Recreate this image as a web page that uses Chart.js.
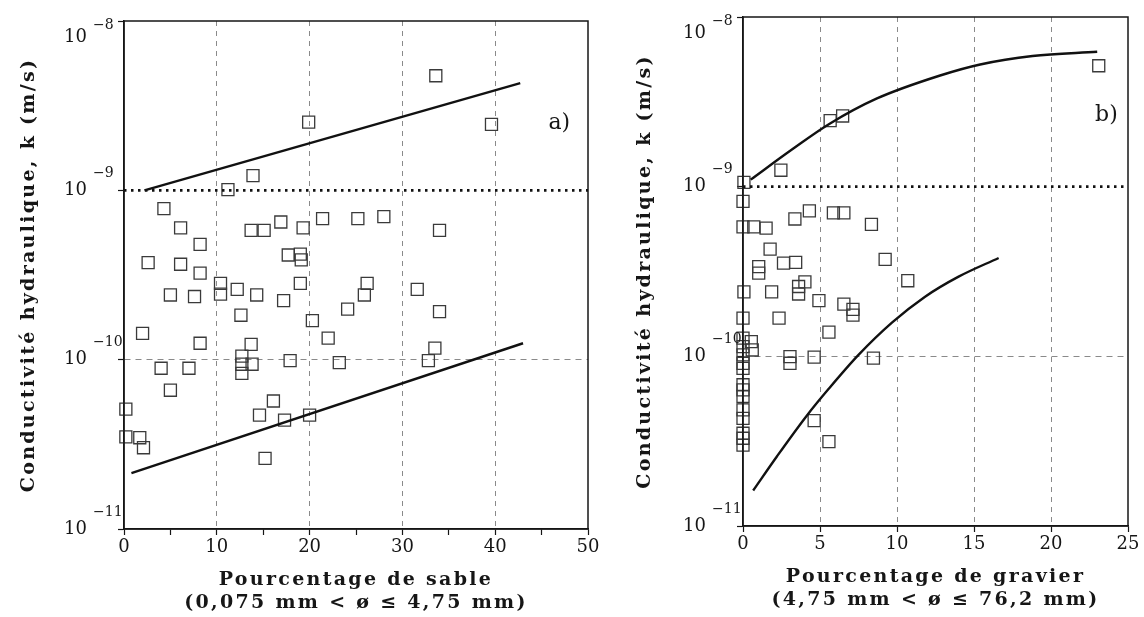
<!DOCTYPE html>
<html>
<head>
<meta charset="utf-8">
<script src="https://cdn.jsdelivr.net/npm/chart.js@4.4.1/dist/chart.umd.min.js"></script>
<style>
  html, body { margin: 0; padding: 0; background: #fff; }
  #wrap { position: relative; width: 1144px; height: 617px; overflow: hidden; }
  canvas { position: absolute; top: 0; }
</style>
</head>
<body>
<div id="wrap">
  <canvas id="sandChart" width="610" height="617" style="left:0"></canvas>
  <canvas id="gravelChart" width="534" height="617" style="left:610px"></canvas>
</div>
<script>
// shared y axis: hydraulic conductivity, decades only
const decadeTicks = [1e-11, 1e-10, 1e-9, 1e-8];
const decadeExponents = ["\u221211", "\u221210", "\u22129", "\u22128"];
const thresholdK = 1e-9;

// a) sand
const sandTicks = [0, 10, 20, 30, 40, 50];
const sandX = [33.6, 19.9, 39.6, 13.9, 11.2, 4.3, 6.1, 13.7, 15.1, 16.9, 19.3, 21.4, 25.2, 28.0, 34.0,
  8.2, 2.6, 6.1, 8.2, 17.7, 19.0, 19.1, 10.4, 10.4, 12.2, 5.0, 7.6, 14.3, 17.2, 19.0, 26.2, 25.9,
  31.6, 24.1, 34.0, 12.6, 20.3, 2.0, 8.2, 13.7, 22.0, 33.5, 12.7, 12.7, 12.7, 13.8, 17.9, 23.2,
  32.8, 4.0, 7.0, 5.0, 0.2, 16.1, 14.6, 17.3, 20.0, 0.2, 1.7, 2.1, 15.2];
const sandK = [4.75e-9, 2.53e-9, 2.45e-9, 1.22e-9, 1.01e-9, 7.8e-10, 6.0e-10, 5.8e-10, 5.8e-10, 6.5e-10,
  6.0e-10, 6.8e-10, 6.8e-10, 7.0e-10, 5.8e-10, 4.8e-10, 3.74e-10, 3.66e-10, 3.24e-10, 4.15e-10, 4.2e-10,
  3.88e-10, 2.82e-10, 2.44e-10, 2.6e-10, 2.41e-10, 2.36e-10, 2.41e-10, 2.23e-10, 2.82e-10, 2.82e-10,
  2.41e-10, 2.6e-10, 1.99e-10, 1.92e-10, 1.83e-10, 1.7e-10, 1.43e-10, 1.25e-10, 1.23e-10, 1.34e-10,
  1.17e-10, 1.05e-10, 9.4e-11, 8.3e-11, 9.4e-11, 9.86e-11, 9.6e-11, 9.86e-11, 8.9e-11, 8.9e-11,
  6.6e-11, 5.1e-11, 5.7e-11, 4.7e-11, 4.4e-11, 4.7e-11, 3.5e-11, 3.46e-11, 3.02e-11, 2.61e-11];
const sandUpperX = [2.2, 42.7];
const sandUpperK = [1.0e-9, 4.3e-9];
const sandLowerX = [0.8, 43.0];
const sandLowerK = [2.14e-11, 1.25e-10];

// b) gravel
const gravelTicks = [0, 5, 10, 15, 20, 25];
const gravelX = [23.1, 5.66, 6.47, 2.46, 0.06, 0, 0, 0.7, 1.5, 3.37, 4.31, 5.87, 6.55, 8.34, 1.76,
  1.02, 1.02, 2.63, 3.42, 9.23, 10.7, 4.02, 3.61, 3.61, 0.06, 1.86, 4.93, 6.55, 7.14, 7.14, 0, 2.34,
  5.58, 0, 0.54, 0.6, 0, 0, 3.05, 3.05, 4.62, 8.47, 0, 0, 0, 0, 0, 0, 0, 0, 0, 0, 4.62, 5.58];
const gravelK = [5.16e-9, 2.45e-9, 2.61e-9, 1.25e-9, 1.06e-9, 8.2e-10, 5.8e-10, 5.8e-10, 5.7e-10,
  6.45e-10, 7.2e-10, 7.0e-10, 7.0e-10, 6.0e-10, 4.28e-10, 3.38e-10, 3.09e-10, 3.54e-10, 3.58e-10,
  3.73e-10, 2.79e-10, 2.75e-10, 2.58e-10, 2.33e-10, 2.4e-10, 2.4e-10, 2.13e-10, 2.03e-10, 1.89e-10,
  1.75e-10, 1.68e-10, 1.68e-10, 1.39e-10, 1.28e-10, 1.22e-10, 1.09e-10, 1.14e-10, 1.02e-10, 9.96e-11,
  9.1e-11, 9.9e-11, 9.75e-11, 9.1e-11, 8.5e-11, 6.8e-11, 6.34e-11, 5.8e-11, 4.83e-11, 4.31e-11,
  3.52e-11, 3.29e-11, 3.0e-11, 4.18e-11, 3.14e-11];
const gravelUpperX = [0.5, 3.2, 5.6, 8.7, 12.8, 15.4, 18.8, 23.0];
const gravelUpperK = [1.1e-9, 1.66e-9, 2.34e-9, 3.31e-9, 4.52e-9, 5.25e-9, 5.89e-9, 6.24e-9];
const gravelLowerX = [0.66, 2.2, 4.14, 5.58, 7.5, 9.67, 11.8, 14.0, 16.6];
const gravelLowerK = [1.62e-11, 2.57e-11, 4.47e-11, 6.46e-11, 1.02e-10, 1.58e-10, 2.24e-10, 2.95e-10, 3.8e-10];

const FONT = "'DejaVu Serif', 'Liberation Serif', serif";
const INK = "#161616";

function zip(xs, ys) {
  return xs.map((x, i) => ({ x: x, y: ys[i] }));
}

// draws the box, the 10^n tick labels and the panel letter
const decoPlugin = {
  id: "deco",
  beforeDraw(chart) {
    // wide tracking for the axis titles (drawn in the grid layer)
    chart.ctx.letterSpacing = "2.3px";
  },
  beforeDatasetsDraw(chart) {
    chart.ctx.letterSpacing = "0px";
  },
  afterDraw(chart, args, opts) {
    const ctx = chart.ctx;
    const area = chart.chartArea;
    const y = chart.scales.y;
    ctx.save();
    ctx.letterSpacing = "0px";
    ctx.strokeStyle = INK;
    ctx.lineWidth = 1.5;
    ctx.strokeRect(area.left, area.top, area.right - area.left, area.bottom - area.top);

    ctx.fillStyle = INK;
    ctx.textBaseline = "middle";
    decadeTicks.forEach((v, i) => {
      const py = y.getPixelForValue(v);
      const top = i === decadeTicks.length - 1;
      ctx.font = "18px " + FONT;
      ctx.textAlign = "right";
      ctx.fillText("10", area.left - 37, top ? py + 16 : py);
      ctx.font = "14px " + FONT;
      ctx.textAlign = "left";
      ctx.fillText(decadeExponents[i], area.left - 31, top ? py + 4 : py - 17);
    });

    ctx.font = "22px " + FONT;
    ctx.textAlign = "center";
    ctx.fillText(opts.text, chart.scales.x.getPixelForValue(opts.x), y.getPixelForValue(opts.y));
    ctx.restore();
  }
};

function makePanel(id, p) {
  const majors = p.ticks;
  const xMax = majors[majors.length - 1];
  const lineStyle = { borderColor: "#111", borderWidth: 2.4, pointRadius: 0, fill: false };

  new Chart(document.getElementById(id), {
    type: "scatter",
    data: {
      datasets: [
        Object.assign({ type: "line", data: zip([0, xMax], [thresholdK, thresholdK]),
          borderDash: [2.5, 4.5] }, lineStyle, { borderWidth: 2.6 }),
        Object.assign({ type: "line", data: zip(p.upperX, p.upperK), cubicInterpolationMode: "monotone" }, lineStyle),
        Object.assign({ type: "line", data: zip(p.lowerX, p.lowerK), cubicInterpolationMode: "monotone" }, lineStyle),
        {
          data: zip(p.xs, p.ks),
          pointStyle: "rect",
          pointRadius: 8.5,
          borderColor: "#3a3a3a",
          borderWidth: 1.3,
          backgroundColor: "rgba(0,0,0,0)",
          clip: false
        }
      ]
    },
    options: {
      responsive: false,
      animation: false,
      events: [],
      layout: { padding: { top: p.padTop, right: p.padRight, left: 0, bottom: 0 } },
      plugins: {
        legend: { display: false },
        tooltip: { enabled: false },
        deco: { text: p.label, x: p.labelX, y: p.labelY }
      },
      scales: {
        x: {
          type: "linear",
          min: 0,
          max: xMax,
          afterBuildTicks: (s) => { s.ticks = p.tickValues.map(v => ({ value: v })); },
          afterFit: (s) => { s.height = p.xAxisHeight; },
          ticks: {
            z: 1,
            padding: 2,
            color: INK,
            font: { family: FONT, size: 18 },
            maxRotation: 0,
            autoSkip: false,
            callback: (v) => majors.includes(v) ? String(v) : ""
          },
          grid: {
            color: (c) => (c.tick && majors.includes(c.tick.value) && c.tick.value > 0 && c.tick.value < xMax)
              ? "#8a8a8a" : "rgba(0,0,0,0)",
            lineWidth: 1,
            tickColor: INK,
            tickLength: 6,
            tickWidth: 1.2
          },
          border: { display: true, color: INK, width: 1.5, dash: [5, 5] },
          title: {
            display: true,
            text: p.xTitle,
            color: INK,
            font: { family: FONT, size: 19, weight: "bold", lineHeight: 1.22 },
            padding: { top: 0, bottom: p.xTitlePad }
          }
        },
        y: {
          type: "logarithmic",
          min: decadeTicks[0],
          max: decadeTicks[decadeTicks.length - 1],
          afterBuildTicks: (s) => { s.ticks = decadeTicks.map(v => ({ value: v, major: true })); },
          afterFit: (s) => { s.width = p.yAxisWidth; },
          ticks: { display: false },
          grid: {
            color: (c) => (c.tick && Math.abs(Math.log10(c.tick.value) + 10) < 1e-6) ? "#8a8a8a" : "rgba(0,0,0,0)",
            lineWidth: 1,
            tickColor: INK,
            tickLength: 6,
            tickWidth: 1.2
          },
          border: { display: true, color: INK, width: 1.5, dash: [6, 5] },
          title: {
            display: true,
            text: "Conductivit\u00e9 hydraulique, k (m/s)",
            color: INK,
            font: { family: FONT, size: 19, weight: "bold", lineHeight: 1.22 },
            padding: { top: p.yTitlePad, bottom: 0 }
          }
        }
      }
    },
    plugins: [decoPlugin]
  });
}

makePanel("sandChart", {
  ticks: sandTicks,
  tickValues: [0, 5, 10, 15, 20, 25, 30, 35, 40, 45, 50],
  xs: sandX, ks: sandK,
  upperX: sandUpperX, upperK: sandUpperK,
  lowerX: sandLowerX, lowerK: sandLowerK,
  xTitle: ["Pourcentage de sable", "(0,075 mm < \u00f8 \u2264 4,75 mm)"],
  label: "a)", labelX: 46.9, labelY: 2.5e-9,
  padTop: 21, padRight: 22, yAxisWidth: 124, xAxisHeight: 88,
  xTitlePad: 2, yTitlePad: 17
});

makePanel("gravelChart", {
  ticks: gravelTicks,
  tickValues: gravelTicks,
  xs: gravelX, ks: gravelK,
  upperX: gravelUpperX, upperK: gravelUpperK,
  lowerX: gravelLowerX, lowerK: gravelLowerK,
  xTitle: ["Pourcentage de gravier", "(4,75 mm < \u00f8 \u2264 76,2 mm)"],
  label: "b)", labelX: 23.6, labelY: 2.65e-9,
  padTop: 17, padRight: 16, yAxisWidth: 133, xAxisHeight: 91,
  xTitlePad: 5, yTitlePad: 23
});
</script>
</body>
</html>
